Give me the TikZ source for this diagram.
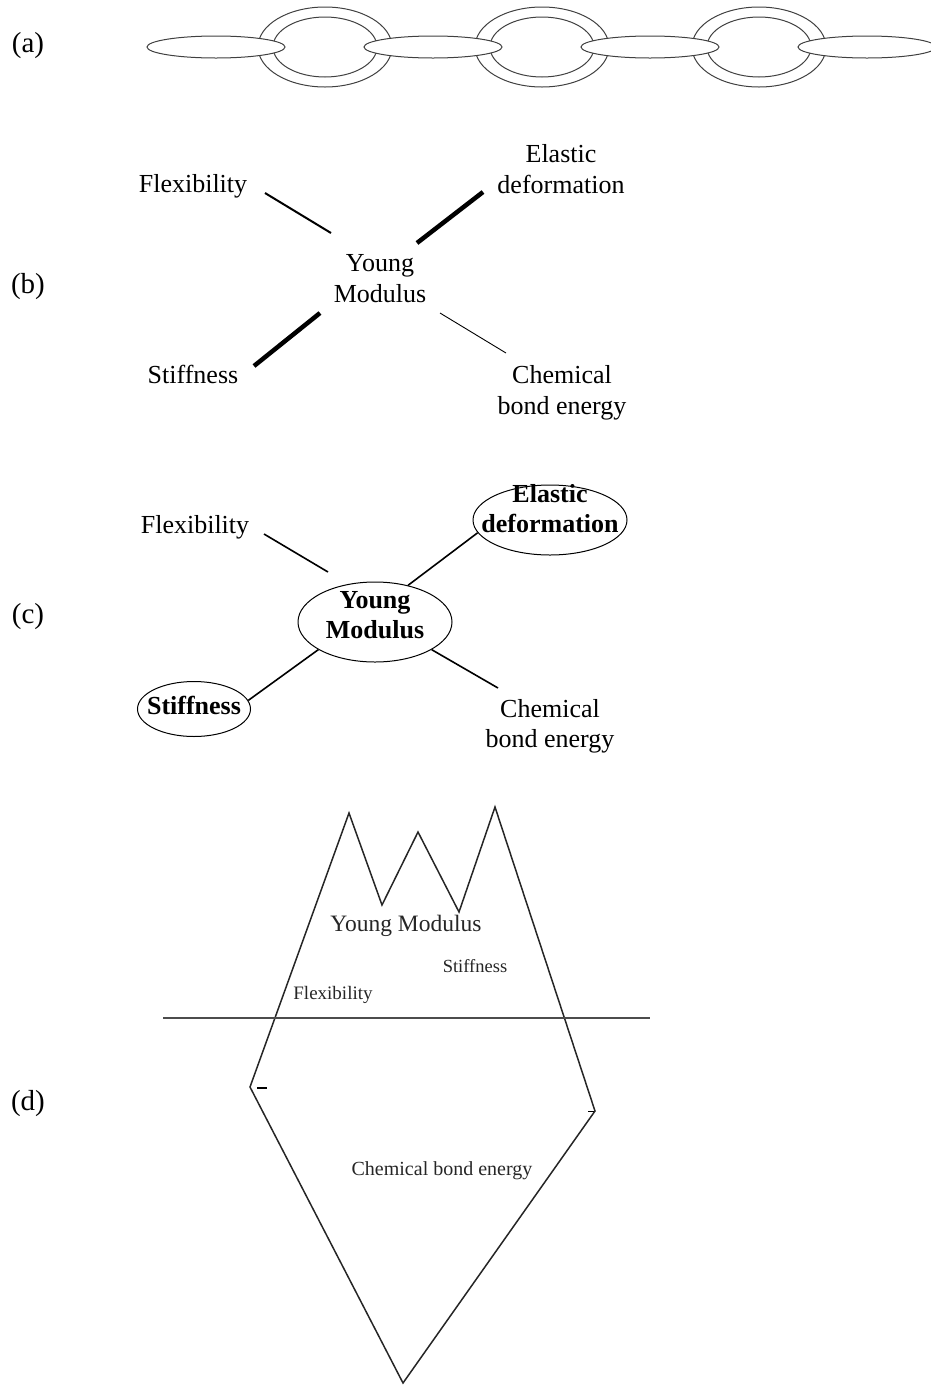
\documentclass[tikz,border=0pt]{standalone}
\usepackage{fontspec}
\setmainfont{Liberation Serif}
\usetikzlibrary{shapes.geometric}
\begin{document}
\begin{tikzpicture}[x=1pt,y=-1pt,
  lbl/.style={font=\fontsize{29}{34}\selectfont},
  word/.style={font=\fontsize{26}{#1}\selectfont, align=center, inner sep=0pt},
  word/.default=31,
  bub/.style={draw, ellipse, line width=1pt, inner sep=0pt},
  btxt/.style={font=\fontsize{26}{30}\selectfont\bfseries, align=center, inner sep=0pt},
  link/.style={line width=1pt, draw=black!75, fill=white},
  berg/.style={line width=1.5pt, black!85, line join=miter},
  small/.style={font=\fontsize{#1}{#1}\selectfont, black!85, inner sep=0pt}]
\useasboundingbox (0,0) rectangle (931,1385);

\node[lbl] (la) at (28,46) {(a)};
\foreach \i in {0,1,2} {
  \draw[link] (325+217*\i,47) ellipse [x radius=67, y radius=40];
  \draw[link] (325+217*\i,47) ellipse [x radius=52, y radius=30];
}
\foreach \i in {0,...,3}
  \draw[link] (216+217*\i,47) ellipse [x radius=69, y radius=11];

\node[lbl] (lb) at (28,287) {(b)};
\node[word] (flexb) at (193,186) {Flexibility};
\node[word] (elastb) at (561,169) {Elastic\\deformation};
\node[word] (ymb) at (380,279) {Young\\Modulus};
\node[word] (stiffb) at (193,374) {Stiffness};
\node[word] (chemb) at (562,393) {Chemical\\bond energy};
\coordinate (fb1) at (265,193);
\coordinate (fb2) at (331,233);
\coordinate (eb1) at (483,192);
\coordinate (eb2) at (417,243);
\coordinate (sb1) at (320,313);
\coordinate (sb2) at (254,366);
\coordinate (cb1) at (440,313);
\coordinate (cb2) at (506,353);
\draw[line width=2pt] (fb1) -- (fb2);
\draw[line width=4.5pt] (eb1) -- (eb2);
\draw[line width=4.5pt] (sb1) -- (sb2);
\draw[line width=0.9pt] (cb1) -- (cb2);

\node[lbl] (lc) at (28,617) {(c)};
\node[word=30] (flexc) at (195,527) {Flexibility};
\node[bub, minimum width=154pt, minimum height=80pt,
  label={[btxt, yshift=6.5pt]center:Young\\Modulus}] (ymc) at (375,622) {};
\node[bub, minimum width=154pt, minimum height=70pt,
  label={[btxt, yshift=11pt]center:Elastic\\deformation}] (elastc) at (550,520) {};
\node[bub, minimum width=113pt, minimum height=55pt,
  label={[btxt, yshift=3.5pt]center:Stiffness}] (stiffc) at (194,709) {};
\node[word=30] (chemc) at (550,726) {Chemical\\bond energy};
\coordinate (fc1) at (264,534);
\coordinate (fc2) at (328,572);
\coordinate (cc2) at (498,688);
\draw[line width=1.6pt] (fc1) -- (fc2);
\draw[line width=1.6pt] (ymc.48) -- (elastc.190);
\draw[line width=1.6pt] (ymc.206) -- (stiffc.9);
\draw[line width=1.6pt] (ymc.334) -- (cc2);

\node[lbl] (ld) at (28,1104) {(d)};
\coordinate (lt) at (250,1087);
\coordinate (p1) at (349,813);
\coordinate (v1) at (382,905);
\coordinate (p2) at (418,832);
\coordinate (v2) at (459,912);
\coordinate (p3) at (495,807);
\coordinate (rt) at (595,1111);
\coordinate (bt) at (403,1383);
\draw[berg] (lt) -- (p1) -- (v1) -- (p2) -- (v2) -- (p3) -- (rt) -- (bt) -- cycle;
\draw[line width=2.5pt] (257,1088) -- (267,1088);
\draw[line width=1pt] (588,1111) -- (594,1111);
\draw[line width=1.5pt, black!70] (163,1018) -- (650,1018);
\node[small=23.5] (ymd) at (406,926) {Young Modulus};
\node[small=18.5] (stiffd) at (475,966) {Stiffness};
\node[small=19] (flexd) at (333,995) {Flexibility};
\node[small=20] (chemd) at (442,1171) {Chemical bond energy};
\end{tikzpicture}
\end{document}
